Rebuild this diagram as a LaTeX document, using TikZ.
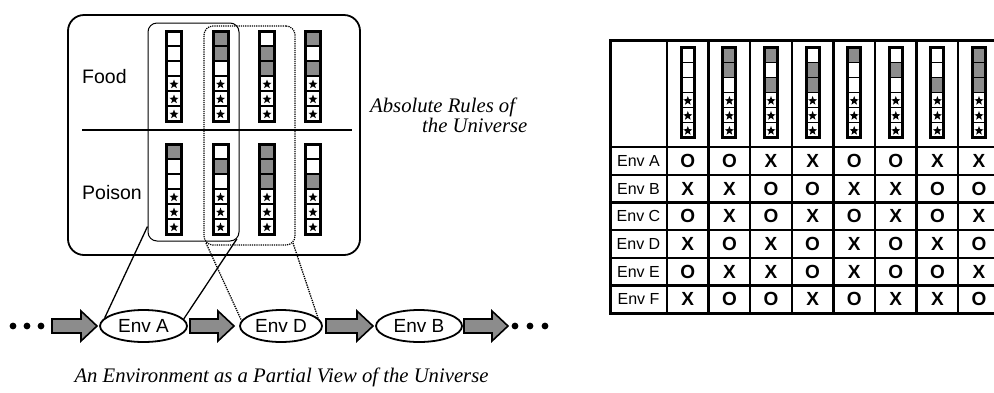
\documentclass[tikz,border=0pt]{standalone}
\usepackage{fontspec}
\setmainfont{Liberation Serif}
\newfontfamily\hv{Liberation Sans}
\usetikzlibrary{shapes.geometric}
\definecolor{stip}{gray}{0.55}
\newcommand\starglyph[1]{\fill (0,#1) +(-90:4.8) -- +(-54:2) -- +(-18:4.8) -- +(18:2) -- +(54:4.8) -- +(90:2) -- +(126:4.8) -- +(162:2) -- +(198:4.8) -- +(234:2) -- cycle;}
% #1 x centre, #2 y top, #3 width, #4-#6 fills of the three upper cells
\newcommand\minibar[6]{%
\begin{scope}[shift={(#1,#2)}]
 \fill[#4] (-#3/2,0) rectangle (#3/2,15);
 \fill[#5] (-#3/2,15) rectangle (#3/2,30);
 \fill[#6] (-#3/2,30) rectangle (#3/2,45);
 \foreach \yy in {53.3,68.3,83.3}{\starglyph{\yy}}
 \foreach \yy in {15,30,45,60,75}{\draw[line width=1.8pt] (-#3/2,\yy) -- (#3/2,\yy);}
 \draw[line width=3pt] (-#3/2,0) rectangle (#3/2,90);
\end{scope}}
\newcommand\blockarr[3]{%
 \filldraw[fill=stip, draw=black, line width=1.6pt, line join=miter]
 (#1,#3-7) -- (#2-16,#3-7) -- (#2-16,#3-15) -- (#2,#3) -- (#2-16,#3+15) -- (#2-16,#3+7) -- (#1,#3+7) -- cycle;}
\tikzset{
 lab/.style={font=\hv\fontsize{19.5pt}{22pt}\selectfont, inner sep=0pt},
 envell/.style={ellipse, draw, line width=1.8pt, inner sep=0pt, minimum height=32pt, font=\hv\fontsize{19pt}{21pt}\selectfont},
 grpsolid/.style={draw, line width=1pt, rounded corners=9pt, inner sep=0pt},
 grpdot/.style={draw, line width=1.2pt, densely dotted, rounded corners=9pt, inner sep=0pt},
 thinline/.style={line width=1.3pt},
 dotline/.style={line width=1.3pt, densely dotted},
 captxt/.style={font=\itshape\fontsize{20.7pt}{24pt}\selectfont, inner sep=0pt},
 rowlab/.style={font=\hv\fontsize{16pt}{18pt}\selectfont, inner sep=0pt},
 okx/.style={font=\hv\bfseries\fontsize{19pt}{20pt}\selectfont, inner sep=0pt}
}
\begin{document}
\begin{tikzpicture}[x=1pt, y=-1pt]
\useasboundingbox (0,0) rectangle (994,392);
\clip (0,0) rectangle (994,392);
\fill[white] (0,0) rectangle (994,392);

% ---------- left panel ----------
\node[draw, line width=1.8pt, rounded corners=16pt, minimum width=292pt, minimum height=240pt, inner sep=0pt] (universe) at (214,135) {};
\coordinate (divL) at (82,130);
\coordinate (divR) at (352,130);
\draw[line width=1.6pt] (divL) -- (divR);
\node[lab, anchor=west] (food) at (82,77) {Food};
\node[lab, anchor=west] (poison) at (82,193) {Poison};

% food bars
\minibar{174}{31}{15}{white}{white}{white}
\minibar{220.5}{31}{15}{stip}{stip}{white}
\minibar{267}{31}{15}{white}{stip}{stip}
\minibar{313}{31}{15}{stip}{white}{stip}
% poison bars
\minibar{174}{144}{15}{stip}{white}{white}
\minibar{220.5}{144}{15}{white}{stip}{white}
\minibar{267}{144}{15}{stip}{stip}{stip}
\minibar{313}{144}{15}{white}{white}{stip}

\node[grpsolid, minimum width=91pt, minimum height=218pt] (grpA) at (193.5,132) {};
\node[grpdot, minimum width=91pt, minimum height=219pt] (grpD) at (249.5,135.5) {};

\node[captxt, anchor=base west] (abs1) at (370,112) {Absolute Rules of};
\node[captxt, anchor=base west] (abs2) at (422,132) {the Universe};

% ---------- environment sequence ----------
\node[envell, minimum width=87pt] (envA) at (143.5,326) {Env A};
\node[envell, minimum width=82pt] (envD) at (281,326) {Env D};
\node[envell, minimum width=86pt] (envB) at (419,326) {Env B};

\draw[thinline] ([yshift=15pt]grpA.south west) -- (envA.168);
\draw[thinline] ([xshift=-2.6pt,yshift=2.6pt]grpA.south east) -- (envA.10);
\draw[dotline] ([xshift=2.6pt,yshift=2.6pt]grpD.south west) -- (envD.172);
\draw[dotline] ([xshift=-2.6pt,yshift=2.6pt]grpD.south east) -- (envD.12);

\foreach \dx in {13,27,41,515,530,545}{\fill (\dx,326) circle (3.4);}
\blockarr{52}{97}{326}
\blockarr{190}{234}{326}
\blockarr{326}{373}{326}
\blockarr{464}{508}{326}

\node[captxt] (cap) at (281.5,377) {An Environment as a Partial View of the Universe};

% ---------- table ----------
\foreach \k in {0,...,5}{\draw[line width=2.4pt] (610,147+27.7*\k) -- (1000,147+27.7*\k);}
\foreach \k in {0,...,8}{\draw[line width=2.4pt] (667+41.6*\k,40) -- (667+41.6*\k,313.2);}
\draw[line width=3pt] (610,40) rectangle (999.8,313.2);

\minibar{687.8}{47.5}{13}{white}{white}{white}
\minibar{729.4}{47.5}{13}{stip}{stip}{white}
\minibar{771}{47.5}{13}{stip}{white}{stip}
\minibar{812.6}{47.5}{13}{white}{stip}{stip}
\minibar{854.2}{47.5}{13}{stip}{white}{white}
\minibar{895.8}{47.5}{13}{white}{stip}{white}
\minibar{937.4}{47.5}{13}{white}{white}{stip}
\minibar{979}{47.5}{13}{stip}{stip}{stip}

\foreach \lab/\vals [count=\r] in {A/{O,O,X,X,O,O,X,X}, B/{X,X,O,O,X,X,O,O}, C/{O,X,O,X,O,X,O,X}, D/{X,O,X,O,X,O,X,O}, E/{O,X,X,O,X,O,O,X}, F/{X,O,O,X,O,X,X,O}}{
  \node[rowlab] (lab\lab) at (638.5,147+27.7*\r-13.85) {Env \lab};
  \foreach \v [count=\c] in \vals {
    \node[okx] (cell\r-\c) at (667+41.6*\c-20.8,147+27.7*\r-13.85) {\v};
  }
}
\end{tikzpicture}
\end{document}
